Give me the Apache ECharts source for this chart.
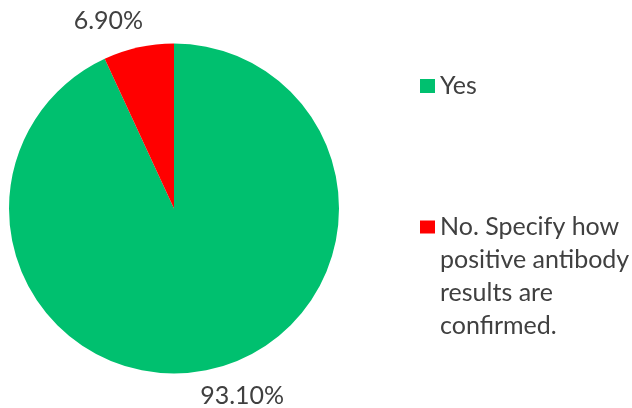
<!DOCTYPE html>
<html>
<head>
<meta charset="utf-8">
<script src="https://cdn.jsdelivr.net/npm/echarts@6/dist/echarts.min.js"></script>
<style>html,body{margin:0;padding:0;background:#fff;}#c{width:632px;height:408px;}</style>
</head>
<body>
<div id="c"></div>
<script>
const categories = ['Yes', 'No. Specify how positive antibody results are confirmed.'];
const values = [93.10, 6.90];
const colors = ['#00C06F', '#FF0000'];

const chart = echarts.init(document.getElementById('c'), null, {renderer: 'canvas'});
const data = categories.map((n, i) => ({name: n, value: values[i], itemStyle: {color: colors[i]}}));
const FONT = 'Lato';
const LH = 33;
chart.setOption({
  animation: false,
  legend: [
    {
      data: [categories[0]],
      orient: 'vertical', left: 420, top: 69.5, padding: 0,
      icon: 'rect', itemWidth: 15, itemHeight: 14, selectedMode: false,
      textStyle: {fontFamily: FONT, fontSize: 25, color: '#404040', lineHeight: LH}
    },
    {
      data: [categories[1]],
      formatter: n => '\n\n\n' + n,
      orient: 'vertical', left: 420, top: 111.5, padding: 0,
      icon: 'rect', itemWidth: 15, itemHeight: 13, selectedMode: false,
      textStyle: {fontFamily: FONT, fontSize: 25, color: '#404040', lineHeight: LH, width: 210, overflow: 'break'}
    }
  ],
  series: [{
    type: 'pie',
    center: [174, 208.5],
    radius: 165,
    startAngle: 90,
    clockwise: true,
    avoidLabelOverlap: false,
    data: data,
    label: {
      show: true,
      position: 'outside',
      formatter: p => p.value.toFixed(2) + '%',
      fontFamily: FONT, fontSize: 25, color: '#404040',
      distanceToLabelLine: 0
    },
    labelLine: {show: false, length: 27, length2: 0},
    labelLayout: function (p) {
      return {align: 'center', verticalAlign: 'middle', dx: p.dataIndex === 0 ? 26.8 : -24.3};
    },
    emphasis: {disabled: true}
  }]
});
</script>
</body>
</html>
